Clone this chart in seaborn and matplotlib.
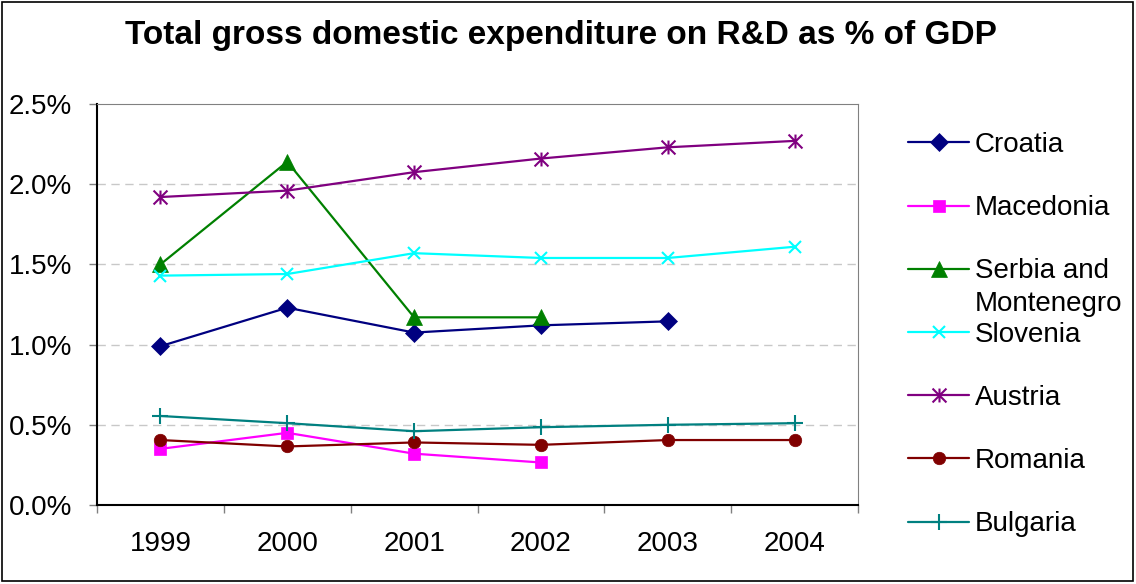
import numpy as np
import pandas as pd
import seaborn as sns
from matplotlib import pyplot as plt
from matplotlib.patches import Rectangle
from matplotlib.path import Path

years = [1999, 2000, 2001, 2002, 2003, 2004]

croatia = [0.99, 1.23, 1.075, 1.12, 1.145, np.nan]
macedonia = [0.35, 0.45, 0.32, 0.265, np.nan, np.nan]
serbia = [1.50, 2.14, 1.17, 1.17, np.nan, np.nan]
slovenia = [1.43, 1.44, 1.57, 1.54, 1.54, 1.61]
austria = [1.92, 1.96, 2.075, 2.16, 2.23, 2.27]
romania = [0.405, 0.365, 0.39, 0.375, 0.405, 0.405]
bulgaria = [0.555, 0.51, 0.46, 0.485, 0.50, 0.51]

countries = ['Croatia', 'Macedonia', 'Serbia and', 'Slovenia', 'Austria', 'Romania', 'Bulgaria']
colors = ['#000080', '#FF00FF', '#008000', '#00FFFF', '#800080', '#800000', '#008080']

# asterisco do Excel: barra vertical + X
asterisco = Path([(0, -1), (0, 1), (-1, -1), (1, 1), (-1, 1), (1, -1)],
                 [Path.MOVETO, Path.LINETO, Path.MOVETO, Path.LINETO, Path.MOVETO, Path.LINETO])
markers = ['D', 's', '^', 'x', asterisco, 'o', '+']
sizes = [9, 9, 11, 9, 10, 9, 11]
linhas = [False, False, False, True, True, False, True]

df = pd.DataFrame({'Ano': years, 'Croatia': croatia, 'Macedonia': macedonia,
                   'Serbia and': serbia, 'Slovenia': slovenia, 'Austria': austria,
                   'Romania': romania, 'Bulgaria': bulgaria})

sns.set_style('white')
plt.rcParams['font.family'] = ['Liberation Sans', 'DejaVu Sans']
plt.rcParams['text.color'] = 'black'
plt.rcParams['xtick.labelcolor'] = 'black'
plt.rcParams['ytick.labelcolor'] = 'black'

fig = plt.figure(figsize=(11.36, 5.84), dpi=100)
ax = fig.add_axes([97 / 1136, 79 / 584, 761 / 1136, 401 / 584])

for nome, cor, mk, ms, ln in zip(countries, colors, markers, sizes, linhas):
    sns.lineplot(data=df, x='Ano', y=nome, ax=ax, color=cor, marker=mk, markersize=ms,
                 markeredgecolor=cor, markerfacecolor='none' if ln else cor,
                 markeredgewidth=1.5 if ln else 0.5,
                 linewidth=1.6, label=nome)

ax.set_xlim(1998.5, 2004.5)
ax.set_ylim(0, 2.5)
ax.set_yticks([0, 0.5, 1.0, 1.5, 2.0, 2.5])
ax.set_yticklabels(['%.1f%%' % v for v in [0, 0.5, 1.0, 1.5, 2.0, 2.5]], fontsize=20)
ax.set_xticks(years)
ax.set_xticklabels([str(a) for a in years], fontsize=20)
ax.set_xticks(np.arange(1998.5, 2005, 1), minor=True)
ax.tick_params(axis='x', which='major', length=0, pad=19)
ax.tick_params(axis='x', which='minor', length=6, width=1, color='#808080', direction='out', bottom=True)
ax.tick_params(axis='y', length=6, width=1, color='#808080', direction='out', left=True, pad=12)
ax.set_xlabel('')
ax.set_ylabel('')

for v in [0.5, 1.0, 1.5, 2.0]:
    ax.axhline(v, color='#C8C8C8', linestyle=(0, (6, 4)), linewidth=1, zorder=0)

ax.spines['left'].set_color('black')
ax.spines['bottom'].set_color('black')
ax.spines['left'].set_linewidth(1.5)
ax.spines['bottom'].set_linewidth(1.5)
ax.spines['top'].set_color('#808080')
ax.spines['right'].set_color('#808080')

leg = ax.legend(loc='upper left', bbox_to_anchor=(908 / 1136, 1 - 132 / 584),
                bbox_transform=fig.transFigure, frameon=False, fontsize=20,
                handlelength=2.2, handletextpad=0.2, labelspacing=1.34,
                borderpad=0, borderaxespad=0)

fig.text(0.494, 0.94, 'Total gross domestic expenditure on R&D as % of GDP',
         ha='center', va='center', fontsize=24, fontweight='bold')

fig.patches.append(Rectangle((2 / 1136, 3 / 584), 1131 / 1136, 579 / 584, transform=fig.transFigure,
                             fill=False, edgecolor='black', linewidth=1.2))

# segunda linha do rótulo da Sérvia, como no original
fig.canvas.draw()
bb = leg.get_texts()[2].get_window_extent().transformed(fig.transFigure.inverted())
fig.text(bb.x0, bb.y0 - 7 / 584, 'Montenegro', ha='left', va='top', fontsize=20)

plt.savefig('out.png', dpi=100)
